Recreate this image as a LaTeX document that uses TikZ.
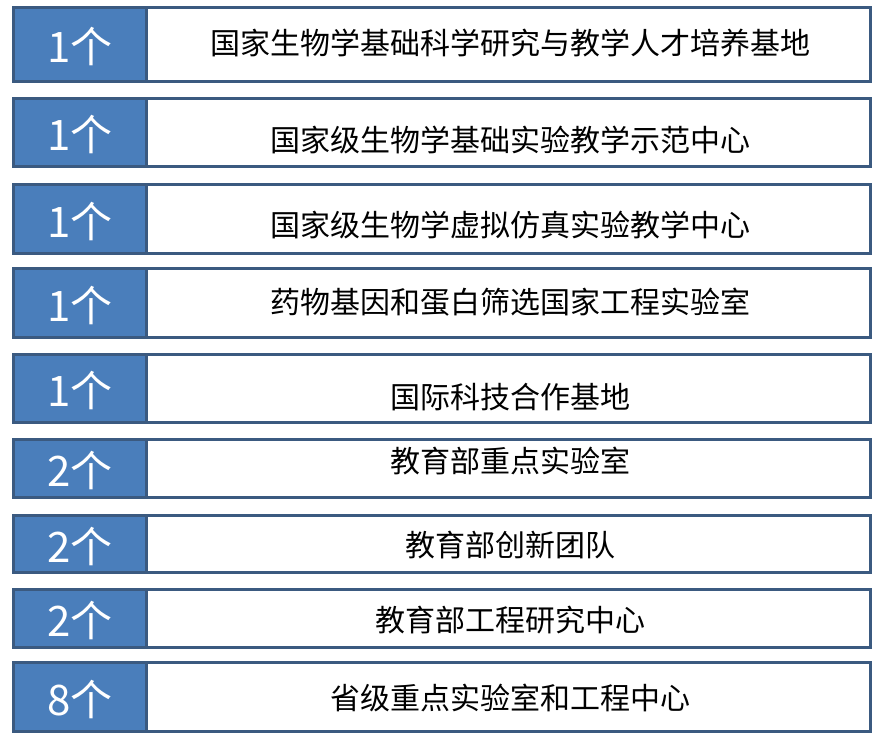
\documentclass[tikz,border=0pt]{standalone}
\usepackage{fontspec}
\setmainfont{Noto Sans CJK SC}
\definecolor{barblue}{HTML}{4A7EBB}
\definecolor{edgeblue}{HTML}{3B5A80}
\begin{document}
\begin{tikzpicture}[x=1pt, y=-1pt,
            countbox/.style={draw=edgeblue, line width=3pt, fill=barblue},
            namebox/.style={draw=edgeblue, line width=3pt, fill=white},
            counttext/.style={text=white, inner sep=0pt, font=\fontsize{42}{42}\selectfont},
            nametext/.style={text=black, inner sep=0pt, font=\fontsize{30}{30}\selectfont}]
            \fill[white] (0,0) rectangle (883,741);
            \useasboundingbox (0,0) rectangle (883,741);

            \foreach \top/\bot/\ty/\num/\name [count=\i] in {
                6/83/43/1个/国家生物学基础科学研究与教学人才培养基地,
                97/168/140/1个/国家级生物学基础实验教学示范中心,
                183/255/225/1个/国家级生物学虚拟仿真实验教学中心,
                267/339/302.5/1个/药物基因和蛋白筛选国家工程实验室,
                353/424/397/1个/国际科技合作基地,
                438/499/460.5/2个/教育部重点实验室,
                514/574/545.5/2个/教育部创新团队,
                588/649/620.5/2个/教育部工程研究中心,
                661/733/697.5/8个/省级重点实验室和工程中心}{
                \draw[namebox] (146.5,\top+1.5) rectangle (870.5,\bot-1.5);
                \draw[countbox] (13.5,\top+1.5) rectangle (146.5,\bot-1.5);
                \node[counttext] (count\i) at (80,{(\top+\bot)/2+2}) {\num};
                \node[nametext] (name\i) at (510,\ty) {\name};
            }
        \end{tikzpicture}
\end{document}
